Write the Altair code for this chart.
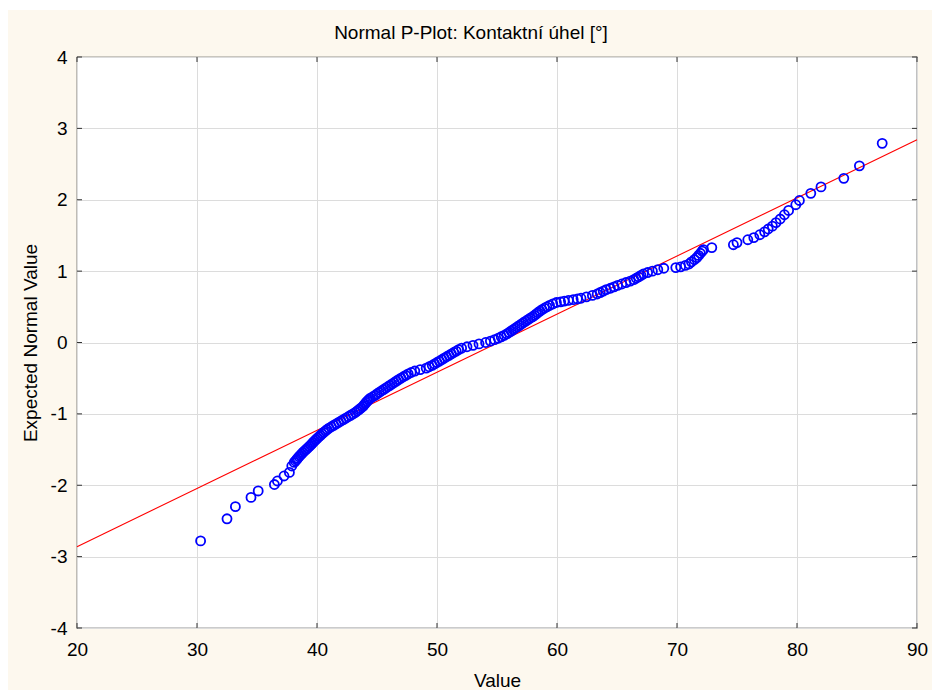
import altair as alt
import pandas as pd

# Sorted observations of the contact angle [deg]
values = [
    30.3, 32.5, 33.2, 34.5, 35.1, 36.45, 36.7, 37.25, 37.7, 37.9,
    38.10, 38.20, 38.30, 38.40, 38.50, 38.61, 38.72, 38.83, 38.95, 39.08,
    39.21, 39.34, 39.46, 39.57, 39.68, 39.79, 39.91, 40.04, 40.16, 40.29,
    40.42, 40.56, 40.70, 40.83, 41.00, 41.20, 41.40, 41.60, 41.80, 42.00,
    42.20, 42.40, 42.60, 42.80, 43.00, 43.20, 43.35, 43.50, 43.65, 43.80,
    43.90, 44.00, 44.10, 44.20, 44.32, 44.45, 44.65, 44.85, 45.00, 45.18,
    45.36, 45.54, 45.72, 45.90, 46.08, 46.26, 46.44, 46.62, 46.80, 47.00,
    47.20, 47.40, 47.60, 47.85, 48.15, 48.60, 49.10, 49.35, 49.60, 49.80,
    50.00, 50.20, 50.40, 50.60, 50.80, 51.00, 51.20, 51.40, 51.60, 51.80,
    52.05, 52.50, 53.00, 53.50, 54.05, 54.45, 54.80, 55.10, 55.35, 55.60,
    55.82, 56.00, 56.18, 56.35, 56.52, 56.70, 56.88, 57.05, 57.22, 57.40,
    57.58, 57.76, 57.95, 58.12, 58.28, 58.42, 58.58, 58.75, 58.95, 59.15,
    59.38, 59.65, 59.95, 60.30, 60.60, 60.95, 61.35, 61.70, 62.00, 62.45,
    62.95, 63.35, 63.60, 63.85, 64.10, 64.45, 64.75, 65.05, 65.40, 65.75,
    66.10, 66.40, 66.60, 66.80, 67.00, 67.20, 67.55, 67.95, 68.40, 68.90,
    69.90, 70.30, 70.70, 71.00, 71.20, 71.45, 71.65, 71.80, 71.95, 72.10,
    72.20, 72.9, 74.7, 75.0, 75.9, 76.4, 76.9, 77.3, 77.6, 77.95,
    78.25, 78.6, 78.95, 79.3, 79.9, 80.2, 81.15, 82.0, 83.9, 85.2,
    87.1,
]
# Expected normal value for each observation
expected = [
    -2.78, -2.47, -2.30, -2.17, -2.08, -1.99, -1.94, -1.87, -1.82, -1.73,
    -1.68, -1.66, -1.64, -1.62, -1.60, -1.58, -1.56, -1.54, -1.52, -1.50,
    -1.48, -1.46, -1.44, -1.42, -1.40, -1.38, -1.36, -1.34, -1.32, -1.30,
    -1.28, -1.26, -1.24, -1.22, -1.20, -1.18, -1.16, -1.14, -1.12, -1.10,
    -1.08, -1.06, -1.04, -1.02, -1.00, -0.98, -0.96, -0.94, -0.92, -0.90,
    -0.88, -0.86, -0.84, -0.82, -0.80, -0.78, -0.76, -0.74, -0.72, -0.70,
    -0.68, -0.66, -0.64, -0.62, -0.60, -0.58, -0.56, -0.54, -0.52, -0.50,
    -0.48, -0.46, -0.44, -0.42, -0.40, -0.38, -0.36, -0.34, -0.32, -0.30,
    -0.28, -0.26, -0.24, -0.22, -0.20, -0.18, -0.16, -0.14, -0.12, -0.10,
    -0.08, -0.06, -0.04, -0.02, 0.00, 0.02, 0.04, 0.06, 0.08, 0.10,
    0.12, 0.14, 0.16, 0.18, 0.20, 0.22, 0.24, 0.26, 0.28, 0.30,
    0.32, 0.34, 0.36, 0.38, 0.40, 0.42, 0.44, 0.46, 0.48, 0.50,
    0.52, 0.54, 0.56, 0.57, 0.58, 0.59, 0.60, 0.61, 0.62, 0.64,
    0.66, 0.68, 0.70, 0.72, 0.74, 0.76, 0.78, 0.80, 0.82, 0.84,
    0.86, 0.88, 0.90, 0.92, 0.94, 0.96, 0.98, 1.00, 1.02, 1.04,
    1.05, 1.06, 1.08, 1.10, 1.13, 1.16, 1.19, 1.22, 1.25, 1.28,
    1.30, 1.33, 1.37, 1.40, 1.44, 1.47, 1.51, 1.55, 1.59, 1.63,
    1.68, 1.73, 1.79, 1.85, 1.93, 1.99, 2.09, 2.18, 2.30, 2.475,
    2.79,
]

# Reference normal line (end points at the x-axis limits)
line_x = [20, 90]
line_y = [-2.86, 2.84]

x_ticks = [20, 30, 40, 50, 60, 70, 80, 90]
y_ticks = [-4, -3, -2, -1, 0, 1, 2, 3, 4]

TITLE = "Normal P-Plot: Kontaktní úhel [°]"

W, H = 840, 571
FONT = "Liberation Sans"
FRAME = "#333333"

pts = pd.DataFrame({"v": values, "e": expected})
ref = pd.DataFrame({"v": line_x, "e": line_y})
xt = pd.DataFrame({"t": x_ticks})
yt = pd.DataFrame({"t": y_ticks})
one = pd.DataFrame({"k": [0]})

xscale = alt.Scale(domain=[20, 90], nice=False, zero=False)
yscale = alt.Scale(domain=[-4, 4], nice=False, zero=False)

x_axis = alt.Axis(
    values=x_ticks, title="Value", grid=True, labelPadding=12, labelFlush=False,
    labelExpr="datum.value + ''",
    titleX=W / 2, titleY=52, titleBaseline="middle", titleFontWeight="normal",
)
y_axis = alt.Axis(
    values=y_ticks, title="Expected Normal Value", grid=True, labelPadding=10,
    labelFlush=False, labelExpr="datum.value + ''",
    titleX=-47, titleY=H / 2, titleBaseline="middle", titleAngle=270,
    titleFontWeight="normal",
)

# White page margin around the cream panel
margin_left = alt.Chart(one).mark_rect(color="white").encode(
    x=alt.value(-77), x2=alt.value(-69), y=alt.value(-57), y2=alt.value(H + 64)
)
margin_top = alt.Chart(one).mark_rect(color="white").encode(
    x=alt.value(-77), x2=alt.value(W + 15), y=alt.value(-57), y2=alt.value(-47)
)
margin_bottom = alt.Chart(one).mark_rect(color="white").encode(
    x=alt.value(-77), x2=alt.value(W + 15), y=alt.value(H + 62), y2=alt.value(H + 64)
)

title = alt.Chart(one).mark_text(
    text=TITLE, font=FONT, fontSize=19, color="#000000", align="center", baseline="middle"
).encode(x=alt.value(394), y=alt.value(-24))

points = alt.Chart(pts).mark_point(
    shape="circle", filled=False, color="#0000FF", size=82, strokeWidth=1.8, opacity=1
).encode(
    x=alt.X("v:Q", scale=xscale, axis=x_axis),
    y=alt.Y("e:Q", scale=yscale, axis=y_axis),
)

normal_line = alt.Chart(ref).mark_line(color="#FF0000", strokeWidth=1.1).encode(
    x=alt.X("v:Q", scale=xscale),
    y=alt.Y("e:Q", scale=yscale),
)

# Inward tick marks on all four sides of the frame
tick_bottom = alt.Chart(xt).mark_rule(color=FRAME, strokeWidth=1).encode(
    x=alt.X("t:Q", scale=xscale), y=alt.value(H), y2=alt.value(H - 5)
)
tick_top = alt.Chart(xt).mark_rule(color=FRAME, strokeWidth=1).encode(
    x=alt.X("t:Q", scale=xscale), y=alt.value(0), y2=alt.value(5)
)
tick_left = alt.Chart(yt).mark_rule(color=FRAME, strokeWidth=1).encode(
    y=alt.Y("t:Q", scale=yscale), x=alt.value(0), x2=alt.value(5)
)
tick_right = alt.Chart(yt).mark_rule(color=FRAME, strokeWidth=1).encode(
    y=alt.Y("t:Q", scale=yscale), x=alt.value(W), x2=alt.value(W - 5)
)

chart = alt.layer(
    margin_left, margin_top, margin_bottom, title,
    normal_line, points,
    tick_bottom, tick_top, tick_left, tick_right,
).properties(
    width=W, height=H,
    autosize=alt.AutoSizeParams(type="none"),
    padding={"left": 77, "top": 57, "right": 15, "bottom": 64},
    background="#FDF8EE",
).configure_view(
    fill="white", stroke=FRAME, strokeWidth=1.2
).configure_axis(
    domain=False, ticks=False, gridColor="#DCDCDC", gridWidth=1,
    labelFont=FONT, labelFontSize=19, labelColor="#000000",
    titleFont=FONT, titleFontSize=19, titleColor="#000000",
)

chart.save("out.html", embed_options={"renderer": "svg", "actions": False})
